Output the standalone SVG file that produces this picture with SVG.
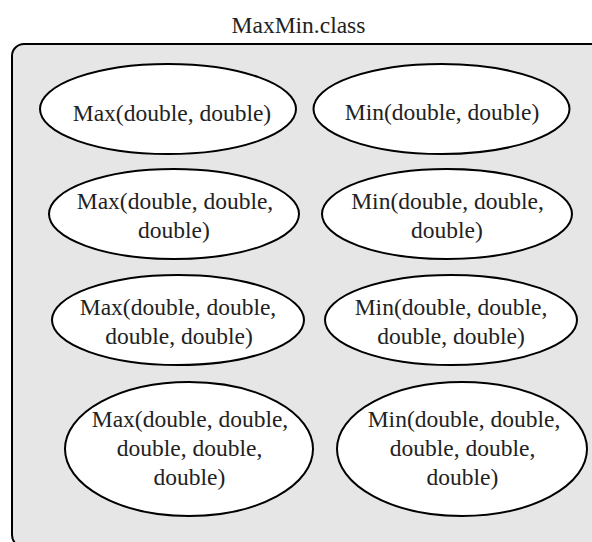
<svg xmlns="http://www.w3.org/2000/svg" width="592" height="542" viewBox="0 0 592 542">
<style>
text{font-family:"Liberation Serif","Times New Roman",serif;font-size:23.5px;fill:#222;text-anchor:middle}
.n ellipse{fill:#fff;stroke:#000;stroke-width:2}
</style>
<rect x="0" y="0" width="592" height="542" fill="#fff"/>
<text x="298.5" y="33">MaxMin.class</text>
<g id="container">
<rect x="12" y="44" width="640" height="503" rx="12" fill="#e6e6e6" stroke="#000" stroke-width="2"/>
</g>
<g id="max2" class="n"><ellipse cx="168" cy="109" rx="128" ry="45"/><text x="172" y="121">Max(double, double)</text></g>
<g id="min2" class="n"><ellipse cx="441.5" cy="109" rx="128" ry="45"/><text x="442" y="120">Min(double, double)</text></g>
<g id="max3" class="n"><ellipse cx="174" cy="214" rx="125" ry="45"/><text x="175" y="209">Max(double, double,</text><text x="174" y="238">double)</text></g>
<g id="min3" class="n"><ellipse cx="447" cy="214" rx="125" ry="45"/><text x="447.5" y="209">Min(double, double,</text><text x="447" y="238">double)</text></g>
<g id="max4" class="n"><ellipse cx="178" cy="320" rx="126" ry="45"/><text x="178" y="315">Max(double, double,</text><text x="179" y="344">double, double)</text></g>
<g id="min4" class="n"><ellipse cx="451" cy="320" rx="126" ry="45"/><text x="451" y="315">Min(double, double,</text><text x="451" y="344">double, double)</text></g>
<g id="max5" class="n"><ellipse cx="189" cy="449" rx="124" ry="67"/><text x="190" y="427">Max(double, double,</text><text x="189.5" y="456">double, double,</text><text x="189.5" y="485">double)</text></g>
<g id="min5" class="n"><ellipse cx="462" cy="449" rx="125" ry="67"/><text x="464" y="427">Min(double, double,</text><text x="462.5" y="456">double, double,</text><text x="462.5" y="485">double)</text></g>
<g id="connectors"/>
</svg>
